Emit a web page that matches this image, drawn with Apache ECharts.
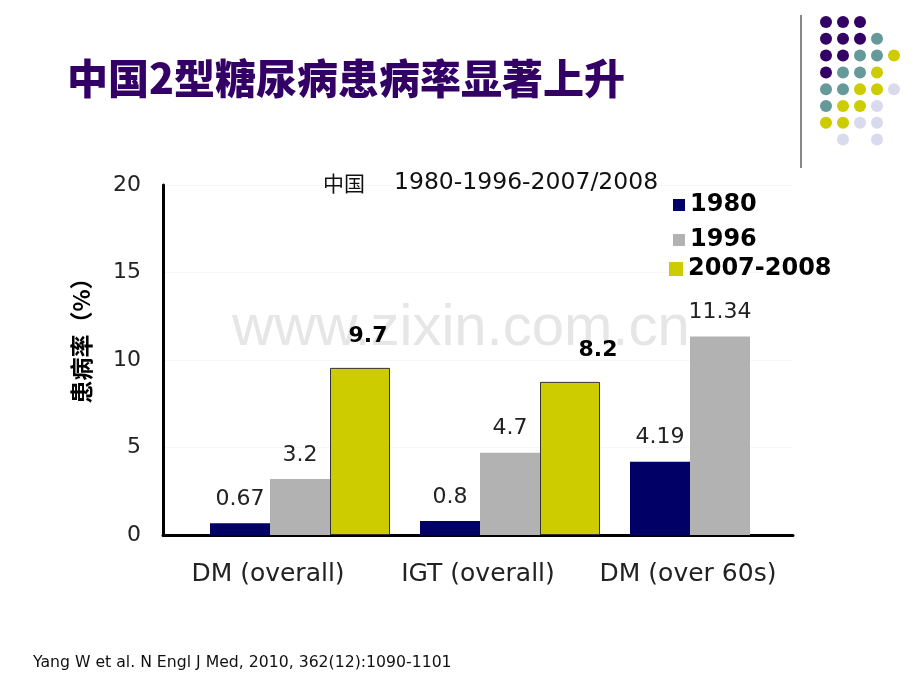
<!DOCTYPE html>
<html lang="zh">
<head>
<meta charset="UTF-8">
<title>中国2型糖尿病患病率显著上升</title>
<style>html,body{margin:0;padding:0;background:#fff}</style>
</head>
<body>
<div id="main" style="width:920px;height:690px"></div>
<script src="https://cdn.jsdelivr.net/npm/echarts@6/dist/echarts.min.js"></script>
<script>
// 数据
var categories = ['DM (overall)', 'IGT (overall)', 'DM (over 60s)'];
var seriesNames = ['1980', '1996', '2007-2008'];
var values1980 = [0.67, 0.8, 4.19];
var values1996 = [3.2, 4.7, 11.34];
var values2008 = [9.55, 8.75, null];   // 图中柱高
var labels2008 = ['9.7', '8.2', ''];    // 图中标注的数值
var yMin = 0, yMax = 20, yStep = 5;

// 右上角装饰圆点 (P紫 T青 Y黄 L淡紫)
var dotRows = ['PPP..', 'PPPT.', 'PPTTY', 'PTTY.', 'TTYYL', 'TYYL.', 'YYLL.', '.L.L.'];
var dotColors = {P: '#330066', T: '#669999', Y: '#cccc00', L: '#dadaee'};

var FONT = 'DejaVu Sans';
var CJK = 'Noto Sans CJK SC';

var myChart = echarts.init(document.getElementById('main'));

var graphics = [
    // 水印
    {type: 'text', left: 232, top: 300, z: 0, silent: true,
     style: {text: 'www.zixin.com.cn', font: '58px "Liberation Sans"', fill: '#e6e6e6'}},
    // 竖线
    {type: 'line', shape: {x1: 801, y1: 15, x2: 801, y2: 168},
     style: {stroke: '#888', lineWidth: 2}},
    // 文献
    {type: 'text', left: 33, top: 655,
     style: {text: 'Yang W et al. N Engl J Med, 2010, 362(12):1090-1101', font: '15.7px "DejaVu Sans"', fill: '#111'}}
];
dotRows.forEach(function (row, r) {
    for (var c = 0; c < row.length; c++) {
        var k = row.charAt(c);
        if (dotColors[k]) {
            graphics.push({type: 'circle', shape: {cx: 826 + 17 * c, cy: 22 + 16.8 * r, r: 6},
                style: {fill: dotColors[k]}});
        }
    }
});

var yellowOffsets = [[8, 0], [28, 0], [0, 0]];

var valueLabel = {show: true, position: 'top', distance: 13, fontFamily: FONT, fontSize: 22, color: '#222'};

var legendBase = {
    orient: 'vertical', icon: 'rect', itemWidth: 12, itemHeight: 12, padding: 0, selectedMode: false,
    itemStyle: {borderWidth: 0},
    textStyle: {fontFamily: FONT, fontSize: 24, fontWeight: 'bold', color: '#000'}
};

var option = {
    backgroundColor: '#fff',
    animation: false,
    title: [{
        text: '中国2型糖尿病患病率显著上升', left: 67, top: 58, padding: 0,
        textStyle: {fontFamily: CJK, fontWeight: 900, fontSize: 41, color: '#330066'}
    }, {
        text: '{a|中国}{b|1980-1996-2007/2008}', left: 323, top: 171, padding: 0,
        textStyle: {fontWeight: 'normal', rich: {
            a: {fontFamily: CJK, fontSize: 21, fontWeight: 'normal', color: '#111'},
            b: {fontFamily: FONT, fontSize: 23.5, fontWeight: 'normal', color: '#111', padding: [0, 0, 0, 29]}
        }}
    }],
    legend: [
        echarts.util.merge({data: [seriesNames[0]], left: 673, top: 193}, legendBase),
        echarts.util.merge({data: [seriesNames[1]], left: 673, top: 228}, legendBase),
        echarts.util.merge({data: [seriesNames[2]], left: 669, top: 257, itemWidth: 14, itemHeight: 14}, legendBase)
    ],
    graphic: graphics,
    grid: [
        {left: 163, right: 127, top: 185, bottom: 155},
        {left: 195, right: 95, top: 185, bottom: 155}
    ],
    xAxis: [{
        gridIndex: 0, type: 'category', data: categories,
        axisLine: {lineStyle: {color: '#000', width: 3}},
        axisTick: {show: false},
        axisLabel: {interval: 0, fontFamily: FONT, fontSize: 25, color: '#222', margin: 27}
    }, {
        gridIndex: 1, type: 'category', data: categories, show: false
    }],
    yAxis: [{
        gridIndex: 0, type: 'value', min: yMin, max: yMax, interval: yStep,
        axisLine: {show: true, lineStyle: {color: '#000', width: 3}},
        axisTick: {show: false},
        axisLabel: {fontFamily: FONT, fontSize: 22, color: '#222', margin: 22},
        splitLine: {lineStyle: {color: '#f7f7f7'}},
        name: '患病率（%）', nameLocation: 'middle', nameRotate: 90, nameGap: 70,
        nameTextStyle: {fontFamily: CJK, fontSize: 23, fontWeight: 'bold', color: '#000',
            padding: [0, 0, 0, 50]}
    }, {
        gridIndex: 1, type: 'value', min: yMin, max: yMax, show: false
    }],
    series: [{
        name: seriesNames[0], type: 'bar', xAxisIndex: 1, yAxisIndex: 1,
        barWidth: 60, barGap: '0%', z: 3,
        itemStyle: {color: '#000066'},
        label: valueLabel,
        data: values1980
    }, {
        name: seriesNames[1], type: 'bar', xAxisIndex: 1, yAxisIndex: 1,
        barWidth: 60, barGap: '0%', z: 3,
        itemStyle: {color: '#b2b2b2'},
        label: valueLabel,
        data: values1996
    }, {
        name: seriesNames[2], type: 'bar', xAxisIndex: 1, yAxisIndex: 1,
        barWidth: 60, barGap: '0%', z: 3,
        itemStyle: {color: '#cccc00', borderColor: '#333', borderWidth: 1},
        label: {
            show: true, position: 'top', distance: 21, fontFamily: FONT, fontSize: 22,
            fontWeight: 'bold', color: '#000',
            formatter: function (p) { return labels2008[p.dataIndex]; }
        },
        data: values2008.map(function (v, i) {
            return {value: v, label: {offset: yellowOffsets[i]}};
        })
    }]
};
myChart.setOption(option);
</script>
</body>
</html>
